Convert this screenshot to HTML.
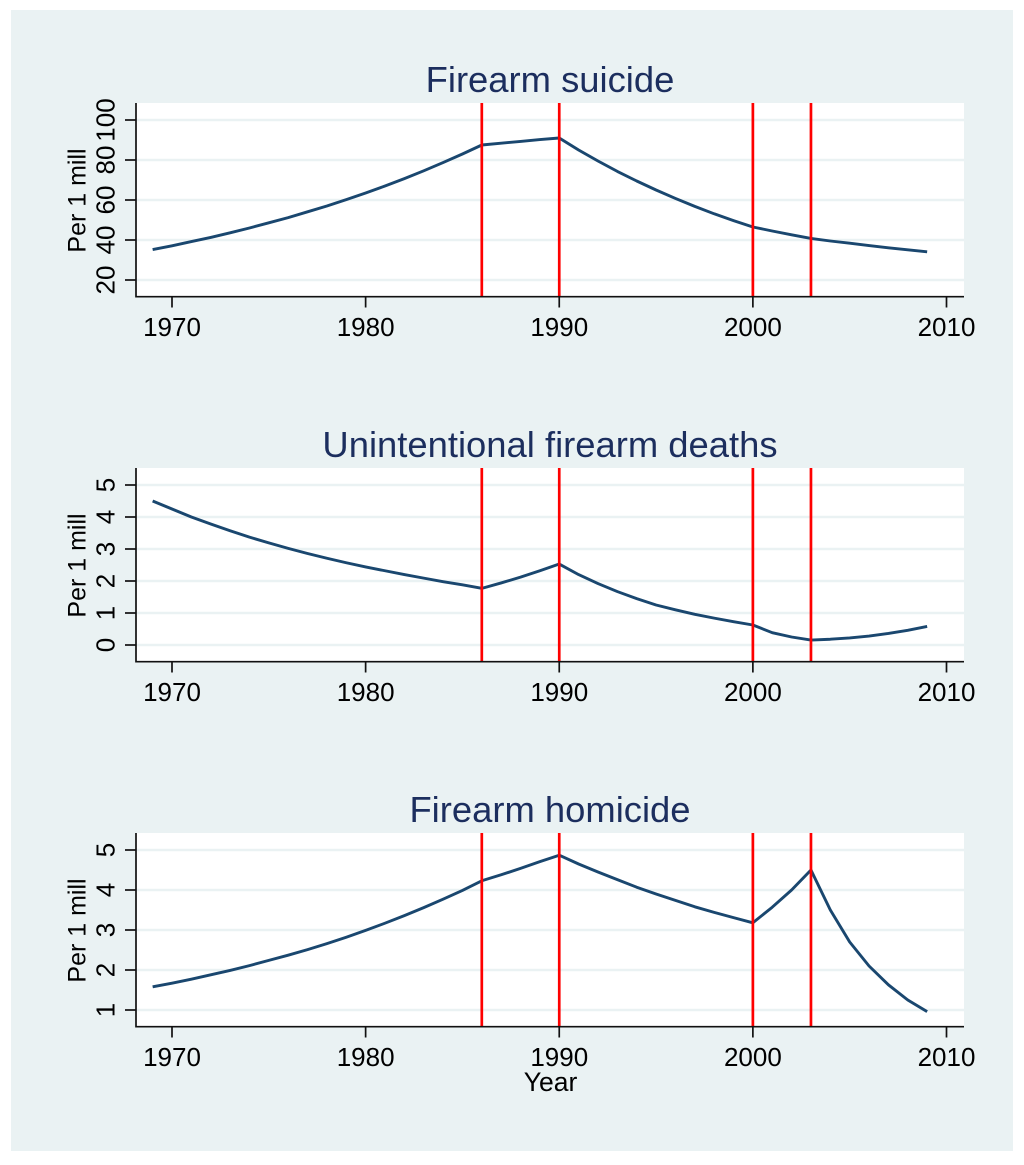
<!DOCTYPE html>
<html lang="en">
<head>
<meta charset="utf-8">
<title>Firearm deaths per 1 million</title>
<style>
html,body{margin:0;padding:0;background:#fff;width:1024px;height:1165px;overflow:hidden}
svg{display:block;font-family:"Liberation Sans",Arial,sans-serif;filter:blur(0.35px)}
</style>
</head>
<body>
<svg id="chart" xmlns="http://www.w3.org/2000/svg" width="1024" height="1165" viewBox="0 0 1024 1165">
  <rect x="11" y="10" width="1002" height="1141" fill="#eaf2f3"/>
  <text x="550" y="92" font-size="36.4" text-anchor="middle" fill="#1c2e5e">Firearm suicide</text>
  <text x="550" y="457" font-size="36.4" text-anchor="middle" fill="#1c2e5e">Unintentional firearm deaths</text>
  <text x="550" y="822" font-size="36.4" text-anchor="middle" fill="#1c2e5e">Firearm homicide</text>
  <text x="550.5" y="1091" font-size="26.5" text-anchor="middle" fill="#000">Year</text>
</svg>
<script>
const years = [1969,1970,1971,1972,1973,1974,1975,1976,1977,1978,1979,1980,1981,1982,1983,1984,1985,1986,1987,1988,1989,1990,1991,1992,1993,1994,1995,1996,1997,1998,1999,2000,2001,2002,2003,2004,2005,2006,2007,2008,2009];
const suicideValues = [35.2,37.1,39.2,41.3,43.6,46,48.6,51.2,54.1,57,60.2,63.5,67,70.7,74.6,78.7,83,87.5,88.4,89.3,90.2,91,85,79.5,74.3,69.5,65,60.8,56.8,53.1,49.7,46.5,44.5,42.6,40.8,39.5,38.4,37.2,36.1,35.1,34.1];
const unintentionalValues = [4.5,4.25,4,3.78,3.57,3.37,3.19,3.02,2.86,2.71,2.57,2.44,2.32,2.2,2.09,1.98,1.88,1.77,1.94,2.12,2.32,2.53,2.2,1.92,1.67,1.45,1.25,1.1,0.96,0.84,0.73,0.625,0.385,0.25,0.155,0.18,0.22,0.28,0.36,0.46,0.58];
const homicideValues = [1.58,1.67,1.77,1.88,1.99,2.11,2.24,2.37,2.51,2.66,2.82,2.99,3.17,3.36,3.56,3.77,3.99,4.23,4.38,4.54,4.71,4.87,4.65,4.45,4.26,4.07,3.9,3.74,3.58,3.44,3.31,3.18,3.57,4,4.5,3.5,2.7,2.1,1.63,1.25,0.96];
const xTickLabels = [1970,1980,1990,2000,2010];
const suicideTicks = [20,40,60,80,100];
const unintentionalTicks = [0,1,2,3,4,5];
const homicideTicks = [1,2,3,4,5];
const eventYears = [1986,1990,2000,2003];

const svg = document.getElementById('chart');
const NS = 'http://www.w3.org/2000/svg';
const plotLeft = 136, plotRight = 964;

function xScale(year){ return 172 + (year - 1970) * 19.3625; }

function make(tag, attrs, parent){
  const el = document.createElementNS(NS, tag);
  for (const k in attrs) el.setAttribute(k, attrs[k]);
  (parent || svg).appendChild(el);
  return el;
}

function drawPanel(name, values, ticks, top, bottom, yScale){
  const g = make('g', {});
  
  

  const plot = make('rect', {x: plotLeft, y: top, width: plotRight - plotLeft, height: bottom - top, fill: '#fff'}, g);
  
  

  ticks.forEach(function(t){
    const y = yScale(t);
    const grid = make('line', {x1: plotLeft, x2: plotRight, y1: y, y2: y, stroke: '#eaf2f3', 'stroke-width': 2.6}, g);
    
    
    const tick = make('line', {x1: plotLeft - 11, x2: plotLeft, y1: y, y2: y, stroke: '#111', 'stroke-width': 1.7}, g);
    
    
    const label = make('text', {x: 0, y: 0, 'font-size': 26, 'text-anchor': 'middle', fill: '#000',
      transform: 'translate(114.5 ' + y + ') rotate(-90)'}, g);
    label.textContent = t;
    
    
  });

  const yTitle = make('text', {x: 0, y: 0, 'font-size': 25, 'text-anchor': 'middle', fill: '#000',
    transform: 'translate(85.5 ' + ((top + bottom) / 2 + 1) + ') rotate(-90)'}, g);
  yTitle.textContent = 'Per 1 mill';
  
  

  const pts = years.map(function(yr, i){ return xScale(yr).toFixed(2) + ',' + yScale(values[i]).toFixed(2); }).join(' ');
  const series = make('polyline', {points: pts, fill: 'none', stroke: '#1a476f', 'stroke-width': 2.9, 'stroke-linejoin': 'round'}, g);
  
  

  eventYears.forEach(function(yr){
    const x = xScale(yr);
    const v = make('line', {x1: x, x2: x, y1: top, y2: bottom, stroke: '#ff0000', 'stroke-width': 2.7}, g);
    
    
  });

  const yAxis = make('line', {x1: plotLeft, x2: plotLeft, y1: top, y2: bottom + 1.5, stroke: '#111', 'stroke-width': 1.7}, g);
  
  
  const xAxis = make('line', {x1: plotLeft, x2: plotRight, y1: bottom + 0.7, y2: bottom + 0.7, stroke: '#111', 'stroke-width': 1.7}, g);
  
  

  xTickLabels.forEach(function(yr){
    const x = xScale(yr);
    const tick = make('line', {x1: x, x2: x, y1: bottom, y2: bottom + 11.5, stroke: '#111', 'stroke-width': 1.7}, g);
    
    
    const label = make('text', {x: x, y: bottom + 40, 'font-size': 26, 'text-anchor': 'middle', fill: '#000'}, g);
    label.textContent = yr;
    
    
  });
}

drawPanel('suicide', suicideValues, suicideTicks, 103, 296, function(v){ return 320 - v * 2; });
drawPanel('unintentional', unintentionalValues, unintentionalTicks, 468, 661, function(v){ return 645 - v * 32; });
drawPanel('homicide', homicideValues, homicideTicks, 833, 1026, function(v){ return 1050 - v * 40; });
</script>
</body>
</html>
